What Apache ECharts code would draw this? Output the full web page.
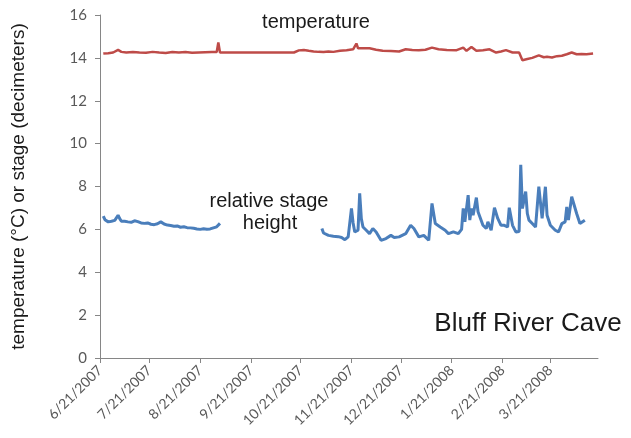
<!DOCTYPE html>
<html>
<head>
<meta charset="utf-8">
<script src="https://cdn.jsdelivr.net/npm/echarts@6/dist/echarts.min.js"></script>
<style>
html,body{margin:0;padding:0;background:#fff;}
#chart{width:631px;height:438px;}
</style>
</head>
<body>
<div id="chart"></div>
<script>
// ---- data ----
const startDate = '6/21/2007';
const endDate = '4/19/2008';
const tickLabels = ['6/21/2007','7/21/2007','8/21/2007','9/21/2007','10/21/2007','11/21/2007','12/21/2007','1/21/2008','2/21/2008','3/21/2008'];
const yTicks = [0, 2, 4, 6, 8, 10, 12, 14, 16];

const tempDates = ['6/23/2007','6/26/2007','6/29/2007','7/2/2007','7/4/2007','7/7/2007','7/11/2007','7/15/2007','7/19/2007','7/23/2007','7/27/2007','7/31/2007','8/4/2007','8/8/2007','8/12/2007','8/16/2007','8/20/2007','8/24/2007','8/28/2007','8/31/2007','9/1/2007','9/2/2007','10/17/2007','10/20/2007','10/23/2007','10/26/2007','10/29/2007','11/1/2007','11/4/2007','11/7/2007','11/10/2007','11/14/2007','11/18/2007','11/22/2007','11/24/2007','11/25/2007','11/27/2007','12/2/2007','12/6/2007','12/10/2007','12/15/2007','12/20/2007','12/24/2007','12/28/2007','1/1/2008','1/5/2008','1/9/2008','1/13/2008','1/18/2008','1/24/2008','1/28/2008','1/30/2008','2/2/2008','2/5/2008','2/9/2008','2/13/2008','2/17/2008','2/20/2008','2/23/2008','2/27/2008','3/2/2008','3/4/2008','3/7/2008','3/10/2008','3/14/2008','3/17/2008','3/19/2008','3/22/2008','3/25/2008','3/28/2008','3/31/2008','4/3/2008','4/6/2008','4/9/2008','4/12/2008','4/16/2008'];
const tempValues = [14.2,14.22,14.25,14.37,14.28,14.25,14.27,14.25,14.24,14.28,14.25,14.23,14.27,14.25,14.27,14.24,14.25,14.26,14.27,14.27,14.72,14.25,14.25,14.35,14.37,14.33,14.3,14.28,14.27,14.3,14.28,14.33,14.36,14.4,14.67,14.45,14.45,14.45,14.38,14.33,14.32,14.3,14.4,14.37,14.36,14.38,14.48,14.4,14.37,14.36,14.48,14.33,14.51,14.33,14.36,14.4,14.25,14.3,14.36,14.25,14.25,13.89,13.95,14.0,14.12,14.03,14.05,14.02,14.08,14.1,14.17,14.25,14.17,14.18,14.17,14.2];

const stageDates1 = ['6/23/2007','6/24/2007','6/25/2007','6/26/2007','6/28/2007','6/30/2007','7/2/2007','7/3/2007','7/4/2007','7/6/2007','7/8/2007','7/10/2007','7/12/2007','7/14/2007','7/16/2007','7/18/2007','7/20/2007','7/22/2007','7/24/2007','7/26/2007','7/28/2007','7/30/2007','8/1/2007','8/3/2007','8/5/2007','8/7/2007','8/9/2007','8/11/2007','8/13/2007','8/15/2007','8/17/2007','8/19/2007','8/21/2007','8/23/2007','8/25/2007','8/27/2007','8/29/2007','8/31/2007','9/2/2007'];
const stageValues1 = [6.62,6.45,6.38,6.35,6.38,6.42,6.66,6.5,6.38,6.38,6.35,6.33,6.4,6.36,6.3,6.28,6.3,6.24,6.22,6.26,6.35,6.25,6.2,6.18,6.15,6.16,6.1,6.12,6.08,6.07,6.05,6.02,6.0,6.03,6.01,6.02,6.07,6.12,6.28];

const stageDates2 = ['11/3/2007','11/4/2007','11/7/2007','11/10/2007','11/13/2007','11/15/2007','11/17/2007','11/19/2007','11/20/2007','11/21/2007','11/22/2007','11/23/2007','11/24/2007','11/25/2007','11/26/2007','11/27/2007','11/28/2007','11/30/2007','12/2/2007','12/4/2007','12/6/2007','12/9/2007','12/12/2007','12/15/2007','12/17/2007','12/20/2007','12/24/2007','12/27/2007','12/29/2007','1/1/2008','1/4/2008','1/7/2008','1/9/2008','1/11/2008','1/14/2008','1/17/2008','1/19/2008','1/22/2008','1/25/2008','1/26/2008','1/27/2008','1/28/2008','1/29/2008','1/31/2008','2/1/2008','2/2/2008','2/3/2008','2/5/2008','2/6/2008','2/9/2008','2/11/2008','2/12/2008','2/14/2008','2/15/2008','2/16/2008','2/18/2008','2/20/2008','2/22/2008','2/24/2008','2/25/2008','2/27/2008','2/29/2008','3/2/2008','3/3/2008','3/4/2008','3/6/2008','3/7/2008','3/8/2008','3/10/2008','3/12/2008','3/14/2008','3/16/2008','3/18/2008','3/19/2008','3/21/2008','3/24/2008','3/26/2008','3/28/2008','3/30/2008','3/31/2008','4/1/2008','4/3/2008','4/4/2008','4/6/2008','4/8/2008','4/11/2008'];
const stageValues2 = [6.04,5.83,5.72,5.68,5.66,5.62,5.52,5.65,5.7,6.98,6.3,5.88,5.92,5.96,7.68,6.5,6.11,5.96,5.8,6.04,5.88,5.49,5.57,5.72,5.62,5.65,5.8,6.19,6.04,5.65,5.72,5.49,7.21,6.27,6.11,5.96,5.8,5.88,5.8,5.76,6.0,6.98,6.35,7.6,6.43,6.98,6.66,7.48,6.82,6.19,6.04,6.35,5.96,5.88,7.01,6.51,6.19,6.19,6.11,7.01,6.19,5.88,5.9,9.01,6.98,7.76,6.74,6.43,6.27,6.11,7.99,6.51,7.99,6.66,6.19,5.96,5.88,6.27,6.35,7.05,6.43,7.52,7.52,6.74,6.27,6.43];

// ---- helpers ----
function dayOf(s) {
  const p = s.split('/').map(Number);
  const b = startDate.split('/').map(Number);
  return Math.round((Date.UTC(p[2], p[0] - 1, p[1]) - Date.UTC(b[2], b[0] - 1, b[1])) / 86400000);
}
const tickDays = tickLabels.map(dayOf);
const tempData = tempDates.map((d, i) => [dayOf(d), tempValues[i]]);
const stageData = stageDates1.map((d, i) => [dayOf(d), stageValues1[i]])
  .concat([[Math.round((dayOf(stageDates1[stageDates1.length - 1]) + dayOf(stageDates2[0])) / 2), '-']])
  .concat(stageDates2.map((d, i) => [dayOf(d), stageValues2[i]]));

const chart = echarts.init(document.getElementById('chart'), null, {renderer: 'canvas'});
const axisColor = '#868686';
const labelColor = '#595959';
const labelFont = 'Lato, "Liberation Sans", sans-serif';
const textFont = '"Liberation Sans", Arial, sans-serif';

chart.setOption({
  animation: false,
  backgroundColor: '#ffffff',
  grid: {left: 100, right: 33, top: 15, bottom: 80, containLabel: false},
  xAxis: {
    type: 'value',
    min: 0,
    max: dayOf(endDate),
    axisLine: {show: true, lineStyle: {color: axisColor, width: 1}},
    axisTick: {show: true, customValues: tickDays, length: 5, lineStyle: {color: axisColor}},
    axisLabel: {
      customValues: tickDays,
      rotate: 45,
      margin: 10,
      color: labelColor,
      fontSize: 14,
      fontFamily: labelFont,
      formatter: function (v) { const i = tickDays.indexOf(Math.round(v)); return i >= 0 ? tickLabels[i] : ''; }
    },
    splitLine: {show: false}
  },
  yAxis: {
    type: 'value',
    min: yTicks[0],
    max: yTicks[yTicks.length - 1],
    interval: 2,
    name: 'temperature (°C) or stage (decimeters)',
    nameLocation: 'middle',
    nameGap: 72,
    nameRotate: 90,
    nameTextStyle: {fontSize: 19, color: '#1a1a1a', fontFamily: textFont},
    axisLine: {show: true, lineStyle: {color: axisColor, width: 1}},
    axisTick: {show: true, length: 5, lineStyle: {color: axisColor}},
    axisLabel: {color: labelColor, fontSize: 15, fontFamily: labelFont, margin: 13},
    splitLine: {show: false}
  },
  series: [
    {
      name: 'temperature', type: 'line', data: tempData, showSymbol: false, symbol: 'none',
      lineStyle: {color: '#be4b48', width: 2.5}, itemStyle: {color: '#be4b48'}
    },
    {
      name: 'relative stage height', type: 'line', data: stageData, showSymbol: false, symbol: 'none',
      connectNulls: false,
      lineStyle: {color: '#4a7ebb', width: 3}, itemStyle: {color: '#4a7ebb'}
    }
  ],
  graphic: [
    {type: 'text', x: 316, y: 22, style: {text: 'temperature', font: '20px ' + textFont, fill: '#1a1a1a', align: 'center', verticalAlign: 'middle'}},
    {type: 'text', x: 269, y: 201, style: {text: 'relative stage', font: '20px ' + textFont, fill: '#1a1a1a', align: 'center', verticalAlign: 'middle'}},
    {type: 'text', x: 270, y: 223, style: {text: 'height', font: '20px ' + textFont, fill: '#1a1a1a', align: 'center', verticalAlign: 'middle'}},
    {type: 'text', x: 528, y: 324, style: {text: 'Bluff River Cave', font: '26px ' + textFont, fill: '#1a1a1a', align: 'center', verticalAlign: 'middle'}}
  ]
});
</script>
</body>
</html>
